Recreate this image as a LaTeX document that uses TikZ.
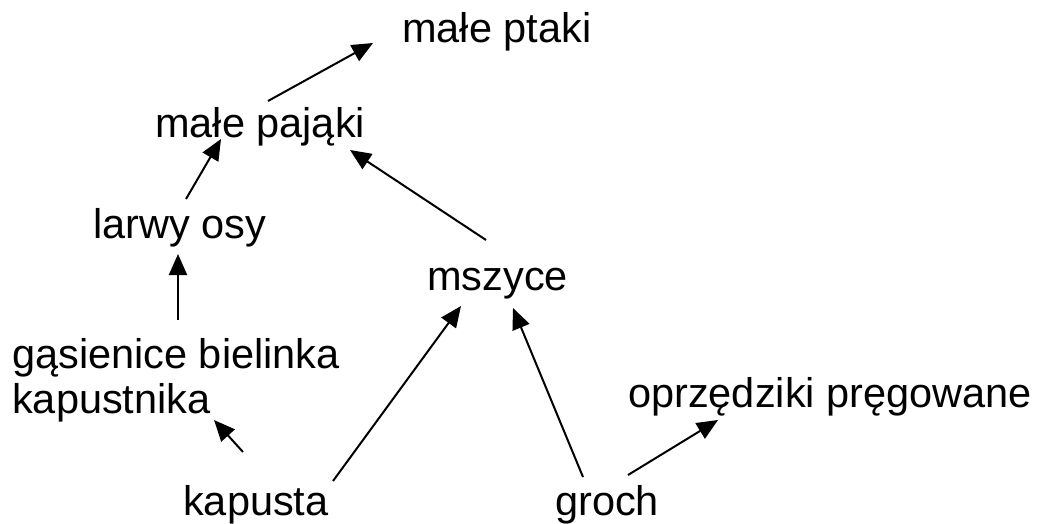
\documentclass[tikz,border=0pt]{standalone}
\usepackage{fontspec}
\setmainfont{Liberation Sans}
\usetikzlibrary{arrows.meta}
\begin{document}
\begin{tikzpicture}[x=1pt,y=-1pt,
  lbl/.style={anchor=base west,inner sep=0pt,font=\fontsize{41.5}{45}\selectfont,align=left},
  arr/.style={line width=2pt,-{Triangle[length=21pt,width=18pt]}}]
\useasboundingbox[fill=white] (0,0) rectangle (1047,524);
\node[lbl] (ptaki) at (402,43) {małe ptaki};
\node[lbl] (pajaki) at (155,138) {małe pająki};
\node[lbl] (larwy) at (93,238) {larwy osy};
\node[lbl] (mszyce) at (427,290) {mszyce};
\node[lbl] (gas) at (12,413) {gąsienice bielinka\\kapustnika};
\node[lbl] (oprz) at (628,407) {oprzędziki pręgowane};
\node[lbl] (kapusta) at (183,515) {kapusta};
\node[lbl] (groch) at (555,515) {groch};
\draw[arr] ([shift={(113,-37)}]pajaki.base west) -- ([shift={(-29,0)}]ptaki.base west);
\draw[arr] ([shift={(93,-39)}]larwy.base west) -- ([shift={(66,1)}]pajaki.base west);
\draw[arr] ([shift={(166,-93)}]gas.base west) -- ([shift={(85,16)}]larwy.base west);
\draw[arr] ([shift={(60,-63)}]kapusta.base west) -- ([shift={(202,7)}]gas.base west);
\draw[arr] ([shift={(150,-34)}]kapusta.base west) -- ([shift={(34,16)}]mszyce.base west);
\draw[arr] ([shift={(59,-50)}]mszyce.base west) -- ([shift={(195,12)}]pajaki.base west);
\draw[arr] ([shift={(28,-38)}]groch.base west) -- ([shift={(86,18)}]mszyce.base west);
\draw[arr] ([shift={(73,-40)}]groch.base west) -- ([shift={(90,13)}]oprz.base west);
\end{tikzpicture}
\end{document}
